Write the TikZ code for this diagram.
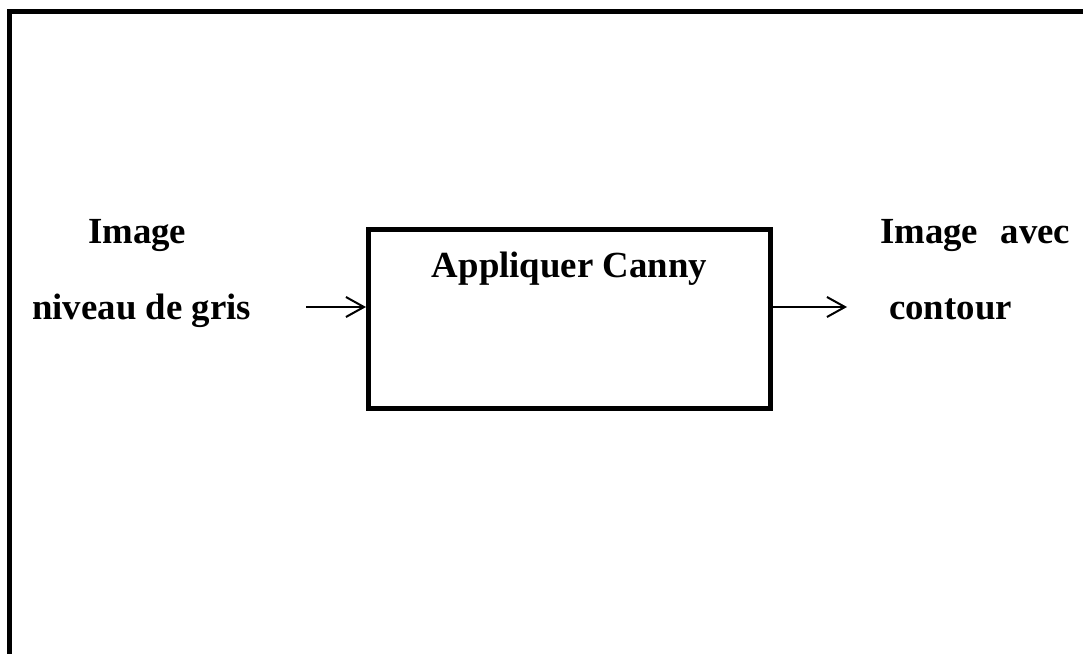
\documentclass[tikz,border=0pt]{standalone}
\usepackage{fontspec}
\setmainfont{Liberation Serif}
\usetikzlibrary{arrows.meta}
\begin{document}
\begin{tikzpicture}[x=1pt,y=-1pt,
  lbl/.style={font=\fontsize{36.8}{40}\selectfont\bfseries, inner sep=0pt, anchor=base west},
  frame/.style={line width=5pt},
  procbox/.style={draw, line width=5pt, minimum width=402pt, minimum height=179pt, inner sep=0pt},
  flow/.style={line width=2pt, -{Straight Barb[length=18pt,width=20pt,line width=2pt]}}
]
\useasboundingbox (0,0) rectangle (1083,653);
% outer frame (top and left edges only)
\coordinate (fTR) at (1090,11.5);
\coordinate (fTL) at (9.5,11.5);
\coordinate (fBL) at (9.5,660);
\draw[frame] (fTR) -- (fTL) -- (fBL);
% process box
\node[procbox] (box) at (569.5,319) {};
\node[lbl, anchor=base] (title) at (569.5,277) {Appliquer Canny};
% input text
\node[lbl] (in1) at (88,243) {Image};
\node[lbl] (in2) at (32,319) {niveau de gris};
% output text
\node[lbl] (out1) at (880,243) {Image\hspace{22.5pt}avec};
\node[lbl] (out2) at (889,319) {contour};
% arrows
\coordinate (inS) at (306,307);
\coordinate (outE) at (847,307);
\draw[flow] (inS) -- (inS -| box.west);
\draw[flow] (outE -| box.east) -- (outE);
\end{tikzpicture}
\end{document}
